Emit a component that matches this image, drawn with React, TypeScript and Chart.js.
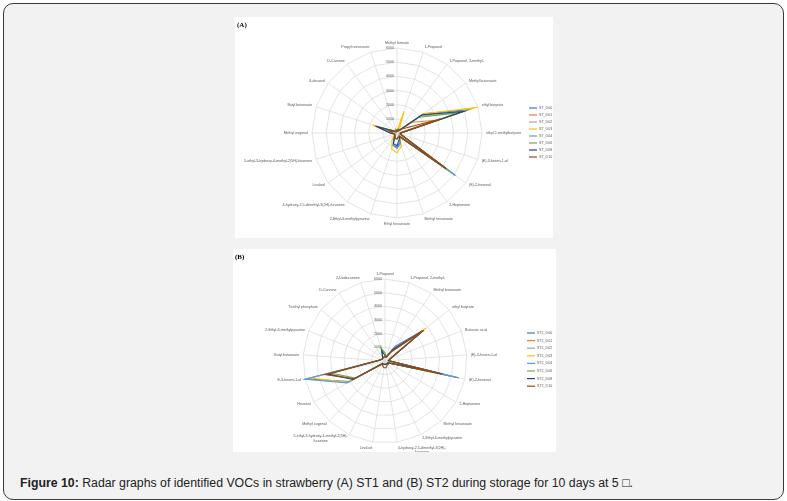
import { useEffect, useRef } from "react"
import { Chart, registerables } from "chart.js"

Chart.register(...registerables)

// Series names and colours (Excel default palette)
const seriesA = ["ST_D00", "ST_D01", "ST_D02", "ST_D03", "ST_D04", "ST_D06", "ST_D08", "ST_D10"]
const seriesB = ["ST2_D00", "ST2_D01", "ST2_D02", "ST2_D03", "ST2_D04", "ST2_D06", "ST2_D08", "ST2_D10"]
const colors = ["#4472C4", "#ED7D31", "#A5A5A5", "#FFC000", "#5B9BD5", "#70AD47", "#264478", "#9E480E"]

const tickValues = [1000, 2000, 3000, 4000, 5000, 6000]

// Panel A: ST1
const labelsA = [
  "Methyl formate",
  "1-Propanol",
  "1-Propanol, 3-methyl-",
  "Methyl butanoate",
  "ethyl butyrate",
  "ethyl 2-methylbutyrate",
  "(E)-3-hexen-1-ol",
  "(E)-2-hexenal",
  "2-Heptanone",
  "Methyl hexanoate",
  "Ethyl hexanoate",
  "2-Ethyl-6-methylpyrazine",
  "4-hydroxy-2,5-dimethyl-3(2H)-furanone",
  "Linalool",
  "5-ethyl-3-hydroxy-4-methyl-2(5H)-furanone",
  "Methyl eugenol",
  "Butyl butanoate",
  "δ-decanol",
  "D-Carvone",
  "Propyl nonanoate",
]
const a_D00 = [150, 250, 200, 2300, 5300, 250, 250, 5100, 300, 700, 1000, 900, 300, 200, 200, 400, 1300, 200, 150, 150]
const a_D01 = [100, 200, 150, 1300, 2900, 200, 200, 4300, 200, 300, 400, 400, 200, 150, 150, 300, 600, 150, 100, 100]
const a_D02 = [100, 200, 200, 2000, 4700, 200, 200, 4400, 250, 300, 450, 400, 250, 150, 150, 300, 700, 150, 100, 100]
const a_D03 = [150, 1600, 250, 2300, 5800, 300, 300, 4300, 350, 1000, 1400, 1200, 600, 250, 250, 400, 1800, 200, 150, 150]
const a_D04 = [150, 250, 200, 2100, 5100, 250, 250, 5000, 300, 800, 1100, 900, 300, 200, 200, 350, 1000, 200, 150, 150]
const a_D06 = [200, 300, 200, 1900, 4600, 250, 250, 4600, 250, 300, 450, 400, 250, 200, 200, 400, 800, 300, 200, 300]
const a_D08 = [150, 250, 200, 2200, 4900, 250, 250, 4300, 300, 500, 900, 800, 300, 200, 200, 500, 1600, 200, 150, 150]
const a_D10 = [100, 200, 200, 500, 3200, 300, 300, 4300, 300, 300, 400, 400, 250, 200, 200, 300, 600, 150, 100, 100]

// Panel B: ST2
const labelsB = [
  "1-Propanol",
  "1-Propanol, 2-methyl-",
  "Methyl butanoate",
  "ethyl butyrate",
  "Butanoic acid",
  "(E)-3-hexen-1-ol",
  "(E)-2-hexenal",
  "2-Heptanone",
  "Methyl hexanoate",
  "2-Ethyl-6-methylpyrazine",
  "4-hydroxy-2,5-dimethyl-3(2H)-\nfuranone",
  "Linalool",
  "5-ethyl-3-hydroxy-4-methyl-2(5H)-\nfuranone",
  "Methyl eugenol",
  "Hexanal",
  "E-3-hexen-1-ol",
  "Butyl butanoate",
  "2-Ethyl-3-methylpyrazine",
  "Triethyl phosphate",
  "D-Carvone",
  "2-Dodecanone",
]
const b_D00 = [300, 350, 1300, 3600, 400, 300, 5400, 300, 300, 250, 250, 250, 300, 300, 3000, 5900, 500, 300, 250, 250, 300]
const b_D01 = [250, 300, 900, 3500, 350, 250, 4300, 250, 250, 250, 250, 250, 250, 250, 2600, 4400, 450, 300, 250, 250, 300]
const b_D02 = [250, 300, 1000, 3600, 350, 250, 4400, 250, 250, 250, 250, 250, 250, 250, 2600, 4200, 450, 300, 250, 250, 300]
const b_D03 = [250, 300, 900, 3850, 350, 250, 4400, 250, 250, 250, 250, 250, 250, 250, 3100, 5600, 450, 300, 250, 250, 300]
const b_D04 = [300, 350, 1100, 3500, 400, 300, 5550, 300, 300, 250, 250, 250, 300, 300, 3200, 6000, 500, 300, 250, 250, 300]
const b_D06 = [600, 300, 900, 3400, 350, 250, 4300, 250, 250, 250, 250, 250, 250, 250, 2500, 4000, 450, 300, 250, 300, 1000]
const b_D08 = [400, 300, 1000, 3600, 350, 250, 4300, 250, 250, 250, 250, 250, 250, 250, 2700, 4300, 500, 300, 250, 300, 800]
const b_D10 = [300, 300, 800, 3600, 400, 300, 4300, 300, 350, 350, 500, 500, 400, 300, 2600, 4500, 500, 300, 250, 250, 300]

const textColor = "#595959"
const labelFont = "3.6px 'Liberation Sans', Arial, sans-serif"

type PanelProps = {
  id: string
  title: string
  labels: string[]
  names: string[]
  values: number[][]
  width: number
  height: number
  cx: number
  cy: number
  radius: number
  legendX: number
  legendY: number
  legendStep: number
}

function RadarPanel(props: PanelProps) {
  const chartRef = useRef<HTMLCanvasElement>(null)
  const chartInstance = useRef<Chart | null>(null)

  useEffect(() => {
    if (!chartRef.current) return
    if (chartInstance.current) chartInstance.current.destroy()
    const ctx = chartRef.current.getContext("2d")
    if (!ctx) return

    const { width, height, cx, cy, radius } = props

    // draws axis labels, tick values, legend and the panel letter
    const annotations = {
      id: "annotations" + props.id,
      afterDraw(chart: Chart) {
        const scale: any = chart.scales.r
        const c = chart.ctx
        c.save()
        c.fillStyle = textColor
        c.font = labelFont

        props.labels.forEach((label, i) => {
          const p = scale.getPointPosition(i, scale.drawingArea + 4)
          const a = scale.getIndexAngle(i)
          const s = Math.sin(a)
          const co = Math.cos(a)
          c.textAlign = Math.abs(s) < 0.05 ? "center" : s > 0 ? "left" : "right"
          const lines = label.split("\n")
          const lh = 4.6
          let y = p.y
          if (co > 0.95) y -= (lines.length - 1) * lh + 1
          else if (co < -0.95) y += 1.5
          else y -= ((lines.length - 1) * lh) / 2
          c.textBaseline = "middle"
          lines.forEach((ln, k) => {
            const w = c.measureText(lines[0]).width
            let x = p.x
            if (k > 0 && c.textAlign !== "center") {
              c.textAlign = "center"
              x = s > 0 ? p.x + w / 2 : p.x - w / 2
            }
            c.fillText(ln, x, y + k * lh)
          })
        })

        c.textAlign = "right"
        c.textBaseline = "middle"
        tickValues.forEach((v) => {
          const r = scale.getDistanceFromCenterForValue(v)
          c.fillText(String(v), scale.xCenter - 3, scale.yCenter - r)
        })

        c.textAlign = "left"
        props.names.forEach((name, i) => {
          const y = props.legendY + i * props.legendStep
          c.strokeStyle = colors[i]
          c.lineWidth = 1.2
          c.beginPath()
          c.moveTo(props.legendX, y)
          c.lineTo(props.legendX + 8, y)
          c.stroke()
          c.fillStyle = textColor
          c.fillText(name, props.legendX + 10, y)
        })

        c.fillStyle = "#000"
        c.font = "bold 7px 'Liberation Serif', 'Times New Roman', serif"
        c.textAlign = "left"
        c.fillText(props.title, 2, 8)
        c.restore()
      },
    }

    chartInstance.current = new Chart(ctx, {
      type: "radar",
      data: {
        labels: props.labels,
        datasets: props.names.map((name, i) => ({
          label: name,
          data: props.values[i],
          borderColor: colors[i],
          backgroundColor: "transparent",
          borderWidth: 1.1,
          pointRadius: 0,
          fill: false,
          order: props.names.length - 1 - i,
        })),
      },
      options: {
        responsive: false,
        animation: false,
        layout: {
          padding: {
            left: cx - radius,
            top: cy - radius,
            right: width - cx - radius,
            bottom: height - cy - radius,
          },
        },
        scales: {
          r: {
            min: 0,
            max: 6000,
            ticks: { display: false, stepSize: 1000 },
            grid: { color: "#d9d9d9", lineWidth: 0.7 },
            angleLines: { color: "#d9d9d9", lineWidth: 0.7 },
            pointLabels: { display: false },
          },
        },
        plugins: {
          legend: { display: false },
          tooltip: { enabled: false },
        },
      },
      plugins: [annotations],
    })

    return () => {
      if (chartInstance.current) {
        chartInstance.current.destroy()
        chartInstance.current = null
      }
    }
  }, [])

  return <canvas ref={chartRef} width={props.width} height={props.height} style={{ display: "block" }}></canvas>
}

export default function App() {
  return (
    <div style={{ position: "absolute", left: 0, top: 0, width: 787, height: 501, background: "#fff", overflow: "hidden" }}>
      <div
        style={{
          position: "absolute",
          left: 3,
          top: 3,
          width: 781,
          height: 497,
          boxSizing: "border-box",
          border: "1.5px solid #3a3a3a",
          borderRadius: 10,
          background: "#f2f2f2",
        }}
      ></div>
      <div style={{ position: "absolute", left: 235, top: 17, width: 318, height: 221, background: "#fff" }}>
        <RadarPanel
          id="A"
          title="(A)"
          labels={labelsA}
          names={seriesA}
          values={[a_D00, a_D01, a_D02, a_D03, a_D04, a_D06, a_D08, a_D10]}
          width={318}
          height={221}
          cx={162}
          cy={116}
          radius={85}
          legendX={294}
          legendY={91}
          legendStep={7}
        />
      </div>
      <div style={{ position: "absolute", left: 233, top: 249, width: 323, height: 203, background: "#fff" }}>
        <RadarPanel
          id="B"
          title="(B)"
          labels={labelsB}
          names={seriesB}
          values={[b_D00, b_D01, b_D02, b_D03, b_D04, b_D06, b_D08, b_D10]}
          width={323}
          height={203}
          cx={152}
          cy={112}
          radius={82}
          legendX={294}
          legendY={84}
          legendStep={7.6}
        />
      </div>
      <div
        style={{
          position: "absolute",
          left: 20,
          top: 476,
          fontFamily: "'Liberation Sans', Arial, sans-serif",
          fontSize: 12.3,
          lineHeight: "14px",
          color: "#222",
          whiteSpace: "nowrap",
        }}
      >
        <b>Figure 10:</b> Radar graphs of identified VOCs in strawberry (A) ST1 and (B) ST2 during storage for 10 days at 5 □.
      </div>
    </div>
  )
}
